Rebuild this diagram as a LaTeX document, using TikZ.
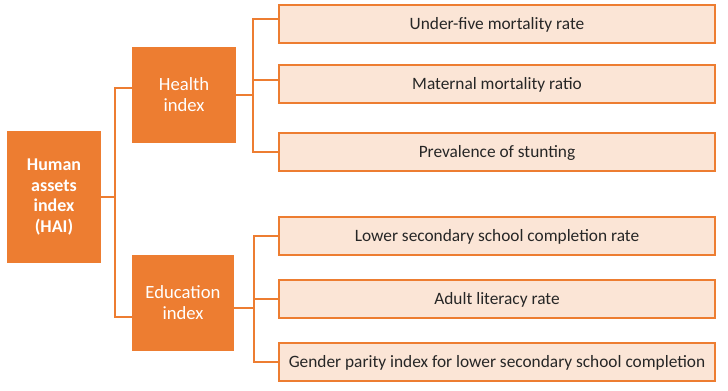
\documentclass[tikz,border=0pt]{standalone}
\usepackage{fontspec}
\setmainfont{Carlito}
\usepackage{xcolor}
\usetikzlibrary{positioning,calc}
\definecolor{hairange}{HTML}{ED7D31}
\definecolor{leaffill}{HTML}{FBE5D6}

\begin{document}
\begin{tikzpicture}[
    x=0.75pt, y=-0.75pt,
    font=\fontsize{13}{15}\selectfont,
    topbox/.style={rectangle, fill=hairange, text=white, align=center, inner sep=2pt},
    leaf/.style={rectangle, draw=hairange, line width=2.2pt, fill=leaffill, minimum width=436*0.75pt, minimum height=38*0.75pt, inner sep=0pt, text depth=1pt, text=black!85},
    link/.style={draw=hairange, line width=1.6pt}
]
\useasboundingbox (0,0) rectangle (728,391);
% Index boxes (left)
\node[topbox, font=\fontsize{13.5}{15.5}\selectfont\bfseries, minimum width=94*0.75pt, minimum height=132*0.75pt] (hai) at (54,197) {Human\\assets\\index\\(HAI)};
\node[topbox, font=\fontsize{14}{15.75}\selectfont, minimum width=104*0.75pt, minimum height=96*0.75pt] (health) at (184,95) {Health\\index};
\node[topbox, font=\fontsize{14}{15.75}\selectfont, minimum width=102*0.75pt, minimum height=96*0.75pt] (edu) at (183,303) {Education\\index};
% Indicators (right)
\node[leaf] (u5)   at (497,24)  {Under-five mortality rate};
\node[leaf] (mmr)  at (497,84)  {Maternal mortality ratio};
\node[leaf] (stun) at (497,152) {Prevalence of stunting};
\node[leaf] (lsc)  at (497,236) {Lower secondary school completion rate};
\node[leaf] (lit)  at (497,299) {Adult literacy rate};
\node[leaf] (gpi)  at (497,362) {Gender parity index for lower secondary school completion};
% Connectors
\draw[link] (hai.east) -- ++(14,0) |- ([yshift=5.25pt]health.west);
\draw[link] (hai.east) -- ++(14,0) |- ([yshift=-10.5pt]edu.west);
\draw[link] (health.east) -- ++(17,0) |- ([yshift=3.75pt]u5.west);
\draw[link] (health.east) -- ++(17,0) |- ([yshift=3pt]mmr.west);
\draw[link] (health.east) -- ++(17,0) |- (stun.west);
\draw[link] ([yshift=-3.75pt]edu.east) -- ++(20,0) |- (lsc.west);
\draw[link] ([yshift=-3.75pt]edu.east) -- ++(20,0) |- (lit.west);
\draw[link] ([yshift=-3.75pt]edu.east) -- ++(20,0) |- (gpi.west);
\end{tikzpicture}
\end{document}
